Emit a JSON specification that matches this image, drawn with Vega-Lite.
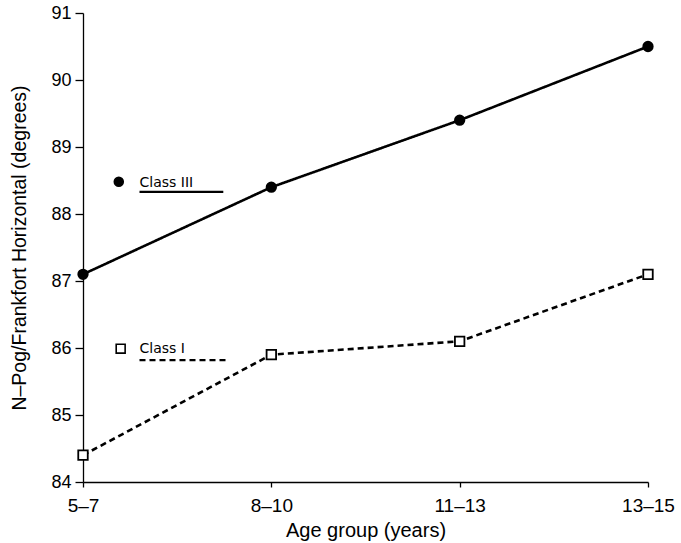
{
  "$schema": "https://vega.github.io/schema/vega-lite/v6.json",
  "width": 565,
  "height": 469,
  "autosize": "none",
  "padding": {"left": 83, "top": 13, "right": 33, "bottom": 61},
  "background": "white",
  "config": {
    "font": "Liberation Sans",
    "view": {"stroke": null},
    "axis": {
      "grid": false,
      "domainColor": "black",
      "domainWidth": 1.3,
      "tickColor": "black",
      "tickWidth": 1.3,
      "labelColor": "black",
      "titleColor": "black",
      "labelFont": "Liberation Sans",
      "titleFont": "Liberation Sans",
      "titleFontWeight": "normal"
    }
  },
  "datasets": {
    "series": [
      {"age": 0, "value": 87.1, "group": "Class III"},
      {"age": 1, "value": 88.4, "group": "Class III"},
      {"age": 2, "value": 89.4, "group": "Class III"},
      {"age": 3, "value": 90.5, "group": "Class III"},
      {"age": 0, "value": 84.4, "group": "Class I"},
      {"age": 1, "value": 85.9, "group": "Class I"},
      {"age": 2, "value": 86.1, "group": "Class I"},
      {"age": 3, "value": 87.1, "group": "Class I"}
    ],
    "key": [
      {"group": "Class III", "mx": 0.19, "my": 88.48, "tx": 0.3, "ty": 88.47, "lx": 0.3, "lx2": 0.745, "ly": 88.33},
      {"group": "Class I", "mx": 0.2, "my": 85.99, "tx": 0.3, "ty": 85.98, "lx": 0.3, "lx2": 0.76, "ly": 85.82}
    ]
  },
  "layer": [
    {
      "data": {"name": "series"},
      "mark": {"type": "line", "color": "black", "strokeWidth": 2.6},
      "encoding": {
        "x": {
          "field": "age",
          "type": "quantitative",
          "scale": {"domain": [0, 3], "nice": false, "zero": false},
          "axis": {
            "values": [0, 1, 2, 3],
            "labelExpr": "['5–7','8–10','11–13','13–15'][datum.value]",
            "title": "Age group (years)",
            "labelFontSize": 19,
            "titleFontSize": 20,
            "tickSize": 5,
            "labelPadding": 9,
            "titlePadding": 5,
            "labelFlush": false
          }
        },
        "y": {
          "field": "value",
          "type": "quantitative",
          "scale": {"domain": [84, 91], "nice": false, "zero": false},
          "axis": {
            "values": [84, 85, 86, 87, 88, 89, 90, 91],
            "format": "d",
            "title": "N–Pog/Frankfort Horizontal (degrees)",
            "labelFontSize": 18,
            "titleFontSize": 19.5,
            "tickSize": 8,
            "labelPadding": 4,
            "titlePadding": 21
          }
        },
        "detail": {"field": "group"},
        "strokeDash": {
          "field": "group",
          "type": "nominal",
          "scale": {"domain": ["Class III", "Class I"], "range": [[1, 0], [6, 4]]},
          "legend": null
        }
      }
    },
    {
      "data": {"name": "series"},
      "mark": {"type": "point", "filled": true, "opacity": 1, "size": 90, "strokeWidth": 1.8},
      "encoding": {
        "x": {"field": "age", "type": "quantitative"},
        "y": {"field": "value", "type": "quantitative"},
        "shape": {
          "field": "group",
          "type": "nominal",
          "scale": {"domain": ["Class III", "Class I"], "range": ["circle", "square"]},
          "legend": null
        },
        "fill": {
          "field": "group",
          "type": "nominal",
          "scale": {"domain": ["Class III", "Class I"], "range": ["black", "white"]},
          "legend": null
        },
        "stroke": {"value": "black"}
      }
    },
    {
      "data": {"name": "key"},
      "mark": {"type": "point", "filled": true, "opacity": 1, "size": 80, "strokeWidth": 1.6},
      "encoding": {
        "x": {"field": "mx", "type": "quantitative"},
        "y": {"field": "my", "type": "quantitative"},
        "shape": {"field": "group", "type": "nominal", "legend": null},
        "fill": {"field": "group", "type": "nominal", "legend": null},
        "stroke": {"value": "black"}
      }
    },
    {
      "data": {"name": "key"},
      "mark": {"type": "text", "align": "left", "baseline": "middle", "font": "DejaVu Sans", "fontSize": 14, "color": "black"},
      "encoding": {
        "x": {"field": "tx", "type": "quantitative"},
        "y": {"field": "ty", "type": "quantitative"},
        "text": {"field": "group"}
      }
    },
    {
      "data": {"name": "key"},
      "mark": {"type": "rule", "color": "black", "strokeWidth": 2.2},
      "encoding": {
        "x": {"field": "lx", "type": "quantitative"},
        "x2": {"field": "lx2"},
        "y": {"field": "ly", "type": "quantitative"},
        "strokeDash": {"field": "group", "type": "nominal", "legend": null}
      }
    }
  ]
}
